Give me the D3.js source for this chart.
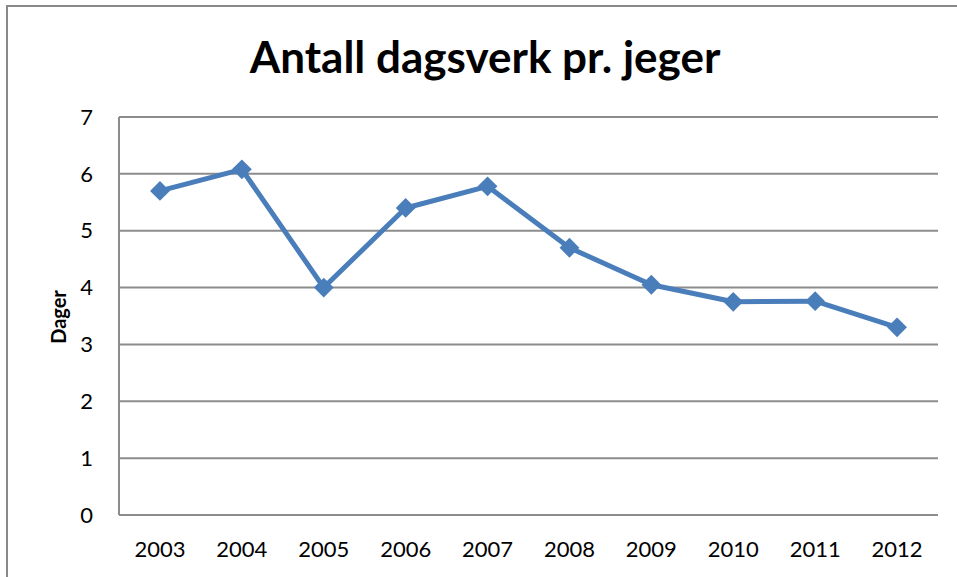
<!DOCTYPE html>
<html>
<head>
<meta charset="utf-8">
<script src="https://cdn.jsdelivr.net/npm/d3@7"></script>
<style>
body { margin: 0; background: #fff; }
</style>
</head>
<body>
<script>
var years = ["2003", "2004", "2005", "2006", "2007", "2008", "2009", "2010", "2011", "2012"];
var dager = [5.7, 6.08, 4.0, 5.4, 5.78, 4.7, 4.05, 3.75, 3.76, 3.3];
var yTicks = [0, 1, 2, 3, 4, 5, 6, 7];

var W = 957, H = 577;
var font = "Lato, 'Open Sans', sans-serif";

var svg = d3.select("body").append("svg")
	.attr("width", W)
	.attr("height", H);

// outer chart border (right and bottom fall outside the crop)
svg.append("path")
	.attr("d", "M7,577 V6 H957")
	.style("fill", "none")
	.style("stroke", "#898989")
	.style("stroke-width", 2);

var plotL = 119, plotR = 938, plotT = 117, plotB = 515;

var x = d3.scaleBand().domain(years).range([plotL, plotR]);
var y = d3.scaleLinear().domain([0, 7]).range([plotB, plotT]);

// gridlines
svg.selectAll("line.grid")
	.data(yTicks.filter(function(d) { return d > 0; }))
	.enter().append("line")
		.attr("class", "grid")
		.attr("x1", plotL)
		.attr("x2", plotR)
		.attr("y1", function(d) { return y(d); })
		.attr("y2", function(d) { return y(d); })
		.style("stroke", "#8c8c8c")
		.style("stroke-width", 2);

// axes lines
svg.append("line")
	.attr("x1", plotL).attr("x2", plotL)
	.attr("y1", plotT).attr("y2", plotB)
	.style("stroke", "#8c8c8c").style("stroke-width", 2);
svg.append("line")
	.attr("x1", plotL).attr("x2", plotR)
	.attr("y1", plotB).attr("y2", plotB)
	.style("stroke", "#8c8c8c").style("stroke-width", 2);

// y tick labels
svg.selectAll("text.ytick")
	.data(yTicks)
	.enter().append("text")
		.attr("class", "ytick")
		.attr("x", 93)
		.attr("y", function(d) { return y(d); })
		.attr("dy", "0.35em")
		.attr("text-anchor", "end")
		.attr("font-family", font)
		.attr("font-size", 22)
		.attr("fill", "#000")
		.text(function(d) { return d; });

// x tick labels
svg.selectAll("text.xtick")
	.data(years)
	.enter().append("text")
		.attr("class", "xtick")
		.attr("x", function(d) { return x(d) + x.bandwidth() / 2; })
		.attr("y", 557)
		.attr("text-anchor", "middle")
		.attr("font-family", font)
		.attr("font-size", 22)
		.attr("fill", "#000")
		.text(function(d) { return d; });

// title
svg.append("text")
	.attr("x", 485)
	.attr("y", 73)
	.attr("text-anchor", "middle")
	.attr("font-family", font)
	.attr("font-weight", "bold")
	.attr("font-size", 44)
	.attr("fill", "#000")
	.text("Antall dagsverk pr. jeger");

// y axis title
svg.append("text")
	.attr("transform", "translate(66,317)rotate(-90)")
	.attr("text-anchor", "middle")
	.attr("font-family", font)
	.attr("font-weight", "bold")
	.attr("font-size", 20)
	.attr("fill", "#000")
	.text("Dager");

var line = d3.line()
	.x(function(d, i) { return x(years[i]) + x.bandwidth() / 2; })
	.y(function(d) { return y(d); });

svg.append("path")
	.datum(dager)
	.attr("d", line)
	.style("fill", "none")
	.style("stroke", "#4a7ebb")
	.style("stroke-width", 5)
	.style("stroke-linejoin", "round");

svg.selectAll("path.marker")
	.data(dager)
	.enter().append("path")
		.attr("class", "marker")
		.attr("d", d3.symbol().type(d3.symbolDiamond2).size(250))
		.attr("transform", function(d, i) {
			return "translate(" + (x(years[i]) + x.bandwidth() / 2) + "," + y(d) + ")";
		})
		.style("fill", "#4a7ebb");
</script>
</body>
</html>
